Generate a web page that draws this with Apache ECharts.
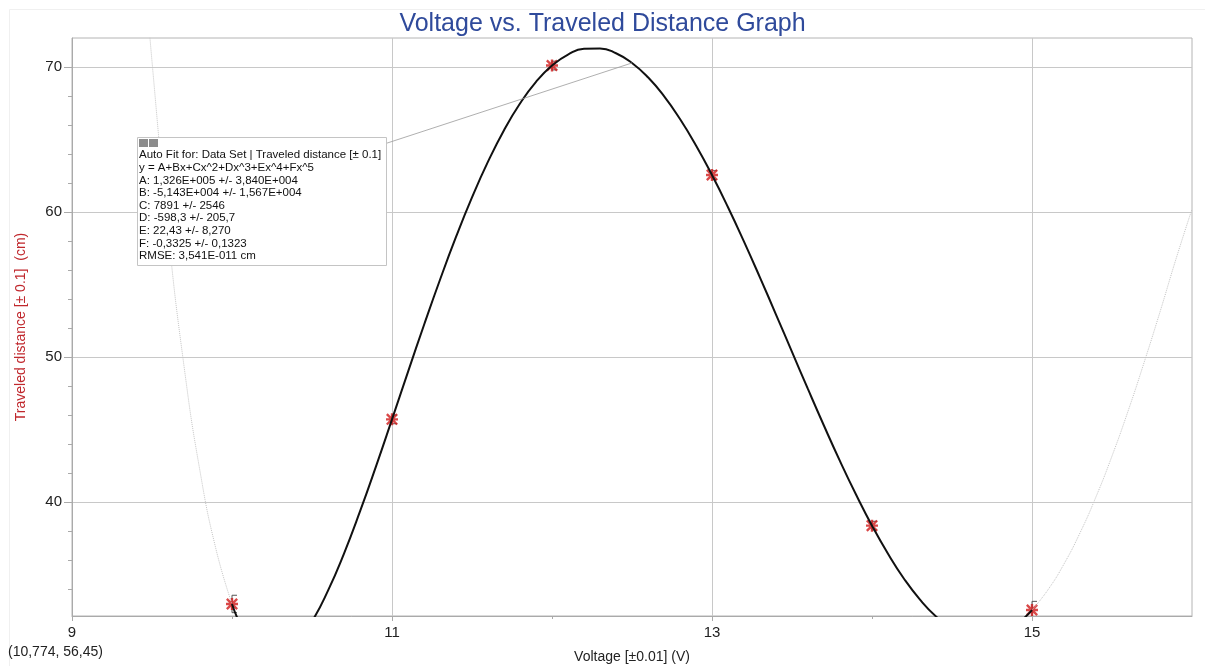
<!DOCTYPE html>
<html>
<head>
    <meta charset="UTF-8">
    <title>Voltage vs. Traveled Distance Graph</title>
    <script src="https://cdn.jsdelivr.net/npm/echarts@6/dist/echarts.min.js"></script>
    <style>
        body { margin: 0; background: #fff; }
        #chart { width: 1205px; height: 666px; }
    </style>
</head>
<body>
    <div id="chart"></div>
    <script>
        // measured points (V, cm)
        const voltage = [10, 11, 12, 13, 14, 15];
        const distance = [32.97, 45.7, 70.1, 62.55, 38.37, 32.55];
        const distErr = [0.6, 0.3, 0.3, 0.3, 0.3, 0.6];

        // auto fit curve
        const fitX = [10.0, 10.1, 10.2, 10.3, 10.4, 10.5, 10.6, 10.7, 10.8, 10.9,
                      11.0, 11.1, 11.2, 11.3, 11.4, 11.5, 11.6, 11.7, 11.8, 11.9,
                      12.0, 12.1, 12.2, 12.3, 12.4, 12.5, 12.6, 12.7, 12.8, 12.9,
                      13.0, 13.1, 13.2, 13.3, 13.4, 13.5, 13.6, 13.7, 13.8, 13.9,
                      14.0, 14.1, 14.2, 14.3, 14.4, 14.5, 14.6, 14.7, 14.8, 14.9, 15.0];
        const fitY = [32.97, 30.62, 29.51, 29.43, 30.24, 31.77, 33.89, 36.45, 39.35, 42.46,
                      45.70, 48.98, 52.21, 55.33, 58.28, 61.01, 63.47, 65.64, 67.48, 68.97,
                      70.10, 70.86, 71.26, 71.28, 70.95, 70.28, 69.29, 67.99, 66.41, 64.59,
                      62.55, 60.33, 57.96, 55.48, 52.93, 50.35, 47.78, 45.26, 42.82, 40.52,
                      38.37, 36.43, 34.71, 33.27, 32.11, 31.28, 30.79, 30.66, 30.90, 31.53, 32.55];

        // faint extension of the fit outside the data
        const extLeftX = [9.45, 9.5, 9.6, 9.7, 9.8, 9.9, 10.0];
        const extLeftY = [77.19, 70.39, 58.72, 49.38, 42.13, 36.74, 32.97];
        const extRightX = [15.0, 15.1, 15.2, 15.3, 15.4, 15.5, 15.6, 15.7, 15.8, 15.9, 16.0];
        const extRightY = [32.55, 33.95, 35.73, 37.87, 40.36, 43.17, 46.26, 49.60, 53.11, 56.76, 60.2];

        const xTicks = [9, 11, 13, 15];
        const xMinorTicks = [10, 12, 14];
        const yTicks = [40, 50, 60, 70];
        const yMinorTicks = [34, 36, 38, 42, 44, 46, 48, 52, 54, 56, 58, 62, 64, 66, 68];

        const fitLines = [
            'Auto Fit for: Data Set | Traveled distance [± 0.1]',
            'y = A+Bx+Cx^2+Dx^3+Ex^4+Fx^5',
            'A: 1,326E+005 +/- 3,840E+004',
            'B: -5,143E+004 +/- 1,567E+004',
            'C: 7891 +/- 2546',
            'D: -598,3 +/- 205,7',
            'E: 22,43 +/- 8,270',
            'F: -0,3325 +/- 0,1323',
            'RMSE: 3,541E-011 cm'
        ];

        const font = '"Liberation Sans", Arial, sans-serif';
        const zip = (xs, ys) => xs.map((x, i) => [x, ys[i]]);

        const asterisk = 'path://M0,4L10,4L10,6L0,6Z M4,0L6,0L6,10L4,10Z ' +
            'M1.4,0L10,8.6L8.6,10L0,1.4Z M8.6,0L10,1.4L1.4,10L0,8.6Z';

        const chart = echarts.init(document.getElementById('chart'));
        const option = {
            backgroundColor: '#fff',
            animation: false,
            textStyle: { fontFamily: font },
            title: {
                text: 'Voltage vs. Traveled Distance Graph',
                left: 'center',
                top: 7,
                textStyle: { color: '#2f4a9b', fontSize: 25, fontWeight: 'normal', fontFamily: font }
            },
            grid: {
                left: 72, right: 13, top: 38, bottom: 50,
                outerBoundsMode: 'none',
                show: true, borderColor: '#b4b4b4', borderWidth: 1
            },
            xAxis: [{
                type: 'value', min: 9, max: 16,
                name: 'Voltage [±0.01] (V)',
                nameLocation: 'middle', nameGap: 34,
                nameTextStyle: { color: '#222', fontSize: 14 },
                axisLine: { show: true, lineStyle: { color: '#aaa' } },
                axisTick: { customValues: xTicks, length: 5, lineStyle: { color: '#aaa' } },
                axisLabel: { customValues: xTicks, color: '#222', fontSize: 15, margin: 9 },
                splitLine: { show: true, lineStyle: { color: '#c8c8c8' } }
            }, {
                type: 'value', min: 9, max: 16, position: 'bottom',
                axisLine: { show: false },
                axisTick: { customValues: xMinorTicks, length: 3, lineStyle: { color: '#aaa' } },
                axisLabel: { show: false },
                splitLine: { show: false }
            }],
            yAxis: [{
                type: 'value', min: 32.14, max: 72,
                name: 'Traveled distance [± 0.1]  (cm)',
                nameLocation: 'middle', nameGap: 44, nameRotate: 90,
                nameTextStyle: { color: '#c0282d', fontSize: 14 },
                axisLine: { show: true, lineStyle: { color: '#aaa' } },
                axisTick: { customValues: yTicks, length: 8, lineStyle: { color: '#aaa' } },
                axisLabel: { customValues: yTicks, color: '#222', fontSize: 15, margin: 10 },
                splitLine: { show: true, lineStyle: { color: '#c8c8c8' } }
            }, {
                type: 'value', min: 32.14, max: 72, position: 'left',
                axisLine: { show: false },
                axisTick: { customValues: yMinorTicks, length: 4, lineStyle: { color: '#aaa' } },
                axisLabel: { show: false },
                splitLine: { show: false }
            }],
            series: [
                {
                    type: 'line', data: zip(extLeftX, extLeftY), smooth: true,
                    symbol: 'none', clip: true,
                    lineStyle: { color: '#c4c4c4', width: 1, type: 'dotted' }
                },
                {
                    type: 'line', data: zip(extRightX, extRightY), smooth: true,
                    symbol: 'none', clip: true,
                    lineStyle: { color: '#c4c4c4', width: 1, type: 'dotted' }
                },
                {
                    type: 'line', data: zip(fitX, fitY), smooth: true,
                    symbol: 'none', clip: true,
                    lineStyle: { color: '#111', width: 2 }
                },
                {
                    type: 'custom', clip: true,
                    data: voltage.map((v, i) => [v, distance[i], distErr[i]]),
                    renderItem: function (params, api) {
                        const x = api.value(0), y = api.value(1), e = api.value(2);
                        const top = api.coord([x, y + e]);
                        const bot = api.coord([x, y - e]);
                        const st = { stroke: '#555', lineWidth: 1 };
                        return {
                            type: 'group',
                            children: [
                                { type: 'line', shape: { x1: top[0], y1: top[1], x2: bot[0], y2: bot[1] }, style: st },
                                { type: 'line', shape: { x1: top[0], y1: top[1], x2: top[0] + 5, y2: top[1] }, style: st },
                                { type: 'line', shape: { x1: bot[0], y1: bot[1], x2: bot[0] + 5, y2: bot[1] }, style: st }
                            ]
                        };
                    }
                },
                {
                    type: 'scatter',
                    data: zip(voltage, distance),
                    symbol: asterisk, symbolSize: 12,
                    itemStyle: { color: '#d01a1a' }
                }
            ],
            graphic: [
                {
                    id: 'frame', type: 'rect', left: 7, top: 7, silent: true,
                    shape: { width: 1205, height: 666 },
                    style: { fill: 'none', stroke: '#f0f0f0', lineWidth: 1 }
                },
                {
                    id: 'box', type: 'rect', left: 137, top: 137, z: 10,
                    shape: { width: 249, height: 128 },
                    style: { fill: '#fff', stroke: '#c4c4c4', lineWidth: 1 }
                },
                {
                    id: 'btnClose', type: 'rect', left: 139, top: 139, z: 11,
                    shape: { width: 9, height: 8 },
                    style: { fill: '#8c8c8c' }
                },
                {
                    id: 'btnMin', type: 'rect', left: 149, top: 139, z: 11,
                    shape: { width: 9, height: 8 },
                    style: { fill: '#8c8c8c' }
                },
                {
                    id: 'boxText', type: 'text', left: 139, top: 149, z: 11,
                    style: {
                        text: fitLines.join('\n'),
                        font: '11.5px ' + font,
                        lineHeight: 12.6,
                        fill: '#111'
                    }
                },
                {
                    id: 'cursor', type: 'text', left: 8, top: 645,
                    style: { text: '(10,774, 56,45)', font: '14px ' + font, fill: '#222' }
                }
            ]
        };
        chart.setOption(option);

        // connector from the fit box to the curve
        const target = chart.convertToPixel({ xAxisIndex: 0, yAxisIndex: 0 }, [fitX[25], fitY[25]]);
        chart.setOption({
            graphic: [{
                id: 'connector', type: 'line', z: 9, silent: true,
                shape: { x1: 372, y1: 148, x2: target[0], y2: target[1] },
                style: { stroke: '#9a9a9a', lineWidth: 0.8 }
            }]
        });
    </script>
</body>
</html>
